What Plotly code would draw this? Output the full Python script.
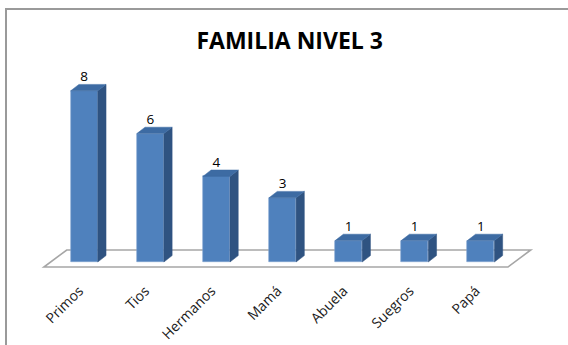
import plotly.graph_objects as go

# Family members counted at level 3
categories = ["Primos", "Tios", "Hermanos", "Mamá", "Abuela", "Suegros", "Papá"]
values = [8, 6, 4, 3, 1, 1, 1]
title_text = "FAMILIA NIVEL 3"

# pseudo-3D styling (in axis units)
BAR_W = 0.41      # front face width
DEPTH_X = 0.125   # receding offset, horizontal
DEPTH_Y = 0.30    # receding offset, vertical
FRONT = "#4F81BD"
SIDE = "#2F5381"
TOP = "#3D6BA3"

n = len(categories)
xs = list(range(n))

fig = go.Figure()

# floor plane drawn beneath the bars
floor_front, floor_back = -0.234, 0.561
floor_left, floor_right = -0.61, n - 1 + 0.41
floor_shift = 0.345
floor_path = (
    f"M {floor_left},{floor_front} L {floor_right},{floor_front} "
    f"L {floor_right + floor_shift},{floor_back} L {floor_left + floor_shift},{floor_back} Z"
)
fig.add_shape(type="path", path=floor_path, xref="x", yref="y", layer="below",
              line=dict(color="#A6A6A6", width=1.6), fillcolor="white")

# front faces
fig.add_trace(go.Bar(
    x=xs, y=values, width=BAR_W,
    marker=dict(color=FRONT, line=dict(color="#7FA3D0", width=0.6)),
    hoverinfo="skip", showlegend=False,
))

# side and top faces
for x, v in zip(xs, values):
    r = x + BAR_W / 2
    l = x - BAR_W / 2
    fig.add_trace(go.Scatter(
        x=[r, r + DEPTH_X, r + DEPTH_X, r, r],
        y=[0, DEPTH_Y, v + DEPTH_Y, v, 0],
        mode="lines", fill="toself", fillcolor=SIDE,
        line=dict(color=SIDE, width=0.5), hoverinfo="skip", showlegend=False,
    ))
    fig.add_trace(go.Scatter(
        x=[l, r, r + DEPTH_X, l + DEPTH_X, l],
        y=[v, v, v + DEPTH_Y, v + DEPTH_Y, v],
        mode="lines", fill="toself", fillcolor=TOP,
        line=dict(color=TOP, width=0.5), hoverinfo="skip", showlegend=False,
    ))

# value labels above each bar
fig.add_trace(go.Scatter(
    x=xs, y=[v + DEPTH_Y for v in values],
    text=[str(v) for v in values], mode="text", textposition="top center",
    textfont=dict(family="Open Sans", size=13.5, color="#000000"),
    hoverinfo="skip", showlegend=False,
))

# chart frame
fig.add_shape(type="rect", xref="paper", yref="paper",
              x0=-0.068, x1=1.1, y0=-0.4, y1=1.237,
              line=dict(color="#9A9A9A", width=2), fillcolor="rgba(0,0,0,0)")

fig.update_layout(
    width=568, height=345, autosize=False,
    margin=dict(l=40, r=28, t=60, b=70, autoexpand=False),
    paper_bgcolor="white", plot_bgcolor="white",
    title=dict(text=f"<b>{title_text}</b>", x=0.51, xanchor="center",
               y=0.882, yanchor="middle", yref="container",
               font=dict(family="Open Sans", size=23, color="#000000")),
    bargap=0,
)
fig.update_xaxes(
    range=[-0.669, 6.895], tickvals=xs, ticktext=categories, tickangle=-45,
    showgrid=False, zeroline=False, showline=False, ticks="",
    tickfont=dict(family="Open Sans", size=14, color="#1A1A1A"),
    ticklabelshift=-5, ticklabelstandoff=4, automargin=False,
    fixedrange=True,
)
fig.update_yaxes(
    range=[-0.607, 9.44], visible=False, showgrid=False, zeroline=False,
    automargin=False, fixedrange=True,
)

fig.write_html("out.html")
